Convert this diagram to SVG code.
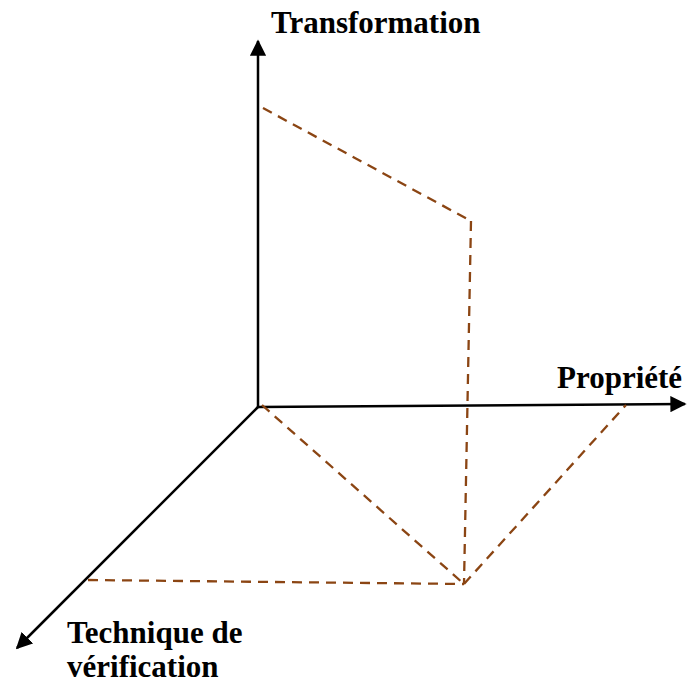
<svg xmlns="http://www.w3.org/2000/svg" width="689" height="684" viewBox="0 0 689 684">
  <style>
    .axis { stroke: #000; stroke-width: 2.5; fill: none; }
    .guide { stroke: #8b4513; stroke-width: 2.3; fill: none; stroke-dasharray: 10 7; }
    .label { font-family: "Liberation Serif", "Times New Roman", serif; font-weight: bold; font-size: 31px; fill: #000; }
  </style>
  <defs>
    <marker id="arrow" viewBox="0 0 10 10" refX="9" refY="5" markerWidth="6.5" markerHeight="6.5" markerUnits="strokeWidth" orient="auto">
      <path d="M0,0 L10,5 L0,10 Z" fill="#000"/>
    </marker>
  </defs>
  <rect width="689" height="684" fill="#fff"/>

  <!-- axes -->
  <g id="connectors">
    <line class="axis" x1="258" y1="407" x2="258" y2="41" marker-end="url(#arrow)"/>
    <line class="axis" x1="258" y1="407" x2="685" y2="404" marker-end="url(#arrow)"/>
    <line class="axis" x1="258" y1="407" x2="17" y2="648" marker-end="url(#arrow)"/>

    <!-- dashed guides -->
    <line class="guide" x1="263" y1="108" x2="471" y2="221"/>
    <line class="guide" x1="471" y1="221" x2="464" y2="584"/>
    <line class="guide" x1="262" y1="405" x2="464" y2="584"/>
    <line class="guide" x1="88" y1="580" x2="464" y2="584"/>
    <line class="guide" x1="464" y1="584" x2="626" y2="405"/>
  </g>

  <g id="transformation">
    <text class="label" x="271" y="33">Transformation</text>
  </g>
  <g id="propriete">
    <text class="label" x="557" y="388">Propriété</text>
  </g>
  <g id="technique">
    <text class="label" x="67" y="643">Technique de</text>
    <text class="label" x="67" y="677">vérification</text>
  </g>
</svg>
